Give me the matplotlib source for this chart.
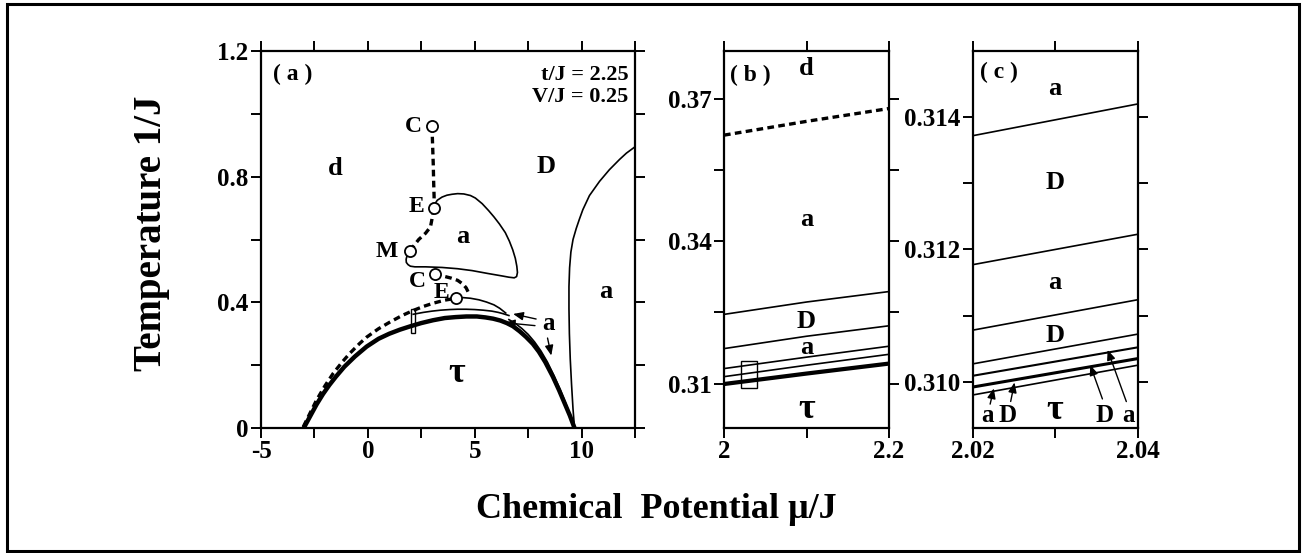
import numpy as np
import matplotlib
matplotlib.use('Agg')
import matplotlib.pyplot as plt
from matplotlib.patches import Rectangle

plt.rcParams['font.family'] = ['Liberation Serif', 'DejaVu Serif']
plt.rcParams['font.weight'] = 'bold'

# ---- panel (a) data: mu/J, T/J ----
dome_x = [-3.0, -2.8, -2.6, -2.4, -2.1, -1.8, -1.5, -1.1, -0.6, -0.06, 0.5, 1.0, 1.5, 2.0, 2.5, 3.05, 3.6, 4.1, 4.61,
          5.1, 5.5, 5.86, 6.2, 6.5, 6.79, 7.1, 7.4, 7.72, 8.0, 8.3, 8.66, 8.95, 9.2, 9.45, 9.67]
dome_y = [0.0, 0.025, 0.05, 0.075, 0.108, 0.137, 0.163, 0.195, 0.228, 0.259, 0.284, 0.3, 0.313, 0.324, 0.334, 0.343, 0.35,
          0.353, 0.355, 0.355, 0.352, 0.348, 0.342, 0.334, 0.324, 0.308, 0.29, 0.268, 0.243, 0.21, 0.163, 0.12, 0.08, 0.04, 0.0]

upper_x = [2.12, 2.6, 3.0, 3.4, 3.83, 4.2, 4.6, 5.0, 5.4, 5.8, 6.1, 6.32, 6.6]
upper_y = [0.362, 0.368, 0.372, 0.375, 0.377, 0.378, 0.378, 0.377, 0.375, 0.372, 0.368, 0.364, 0.358]

right_thin_x = [6.6, 6.9, 7.2, 7.5, 7.8, 8.1, 8.4, 8.7, 9.0, 9.25, 9.45, 9.67]
right_thin_y = [0.345, 0.333, 0.317, 0.298, 0.274, 0.245, 0.21, 0.168, 0.122, 0.08, 0.043, 0.0]

lowdash_x = [-3.02, -2.7, -2.4, -2.0, -1.62, -1.2, -0.84, -0.4, -0.06, 0.5, 1.03, 1.6, 2.12, 2.6, 3.05, 3.6, 4.14]
lowdash_y = [0.004, 0.048, 0.089, 0.135, 0.174, 0.21, 0.238, 0.268, 0.289, 0.316, 0.337, 0.358, 0.374, 0.387, 0.397,
             0.407, 0.413]

e2_solid_x = [4.13, 4.45, 4.8, 5.2, 5.55, 5.9, 6.17, 6.45]
e2_solid_y = [0.413, 0.415, 0.413, 0.408, 0.401, 0.392, 0.381, 0.366]

c2_dash_x = [3.12, 3.5, 3.9, 4.2, 4.45, 4.6, 4.7]
c2_dash_y = [0.49, 0.484, 0.477, 0.47, 0.458, 0.446, 0.432]

ce_dash_x = [3.0, 3.03, 3.06, 3.08, 3.1, 3.08]
ce_dash_y = [0.962, 0.9, 0.84, 0.78, 0.735, 0.70]

em_dash_x = [3.08, 3.0, 2.93, 2.7, 2.38, 2.15, 1.95]
em_dash_y = [0.70, 0.665, 0.64, 0.62, 0.60, 0.58, 0.563]

loop_x = [3.08, 3.12, 3.25, 3.47, 3.7, 3.94, 4.2, 4.49, 4.8, 5.03, 5.35, 5.65, 5.9, 6.15, 6.43, 6.62, 6.78, 6.9, 6.97,
          7.0, 6.96, 6.85, 6.6, 6.28, 5.6, 4.88, 4.2, 3.47, 2.7, 2.2, 1.99, 1.88, 1.8, 1.79, 1.84, 1.95]
loop_y = [0.70, 0.712, 0.725, 0.735, 0.741, 0.744, 0.746, 0.745, 0.74, 0.732, 0.714, 0.692, 0.672, 0.65, 0.622, 0.595,
          0.567, 0.54, 0.515, 0.495, 0.482, 0.478, 0.48, 0.484, 0.492, 0.501, 0.507, 0.511, 0.513, 0.513, 0.515, 0.52,
          0.527, 0.537, 0.55, 0.563]

da_x = [9.67, 9.6, 9.53, 9.47, 9.43, 9.41, 9.41, 9.44, 9.5, 9.6, 9.75, 9.9, 10.06, 10.37, 10.84, 11.3, 11.78, 12.1, 12.5]
da_y = [0.0, 0.06, 0.14, 0.22, 0.3, 0.38, 0.45, 0.51, 0.56, 0.6, 0.635, 0.665, 0.695, 0.74, 0.785, 0.822, 0.855, 0.875,
        0.895]

circ_x = [3.0, 3.08, 1.95, 3.12, 4.13]
circ_y = [0.962, 0.70, 0.563, 0.49, 0.413]
circ_lab = ['C', 'E', 'M', 'C', 'E']
circ_lab_x = [2.15, 2.27, 0.87, 2.32, 3.44]
circ_lab_y = [0.96, 0.705, 0.561, 0.466, 0.43]

# ---- panel (b) ----
b_x = [2.0, 2.1, 2.2]
b_dash = [0.3623, 0.3652, 0.3679]
b_lines = [[0.3246, 0.3272, 0.3294],
           [0.3174, 0.3200, 0.3222],
           [0.3132, 0.3156, 0.3179],
           [0.3115, 0.3139, 0.3162]]
b_thick = [[0.3101, 0.3123, 0.3144],
           [0.3098, 0.3120, 0.3141]]

# ---- panel (c) ----
c_x = [2.02, 2.04]
c_lines = [[0.31372, 0.31420],
           [0.31177, 0.31223],
           [0.31078, 0.31124],
           [0.31027, 0.31072],
           [0.31009, 0.31052],
           [0.30992, 0.31035],
           [0.30980, 0.31025]]
c_lw = [1.2, 1.2, 1.2, 1.2, 1.5, 2.2, 1.2]

W, H = 1302, 553
fig = plt.figure(figsize=(W/100, H/100), dpi=100)
fig.patches.append(Rectangle((0.005, 0.004), 0.993, 0.989, transform=fig.transFigure,
                             fill=False, lw=2.2, color='k'))

def box(l, r, b=428, t=51):
    return [l/W, 1-b/H, (r-l)/W, (b-t)/H]

axa = fig.add_axes(box(261, 635))
axb = fig.add_axes(box(724, 889))
axc = fig.add_axes(box(973, 1138))

for ax in (axa, axb, axc):
    for s in ax.spines.values():
        s.set_linewidth(1.6)
    ax.tick_params(direction='out', length=7, width=1.4, top=True, right=True,
                   labelsize=18, pad=2)

dash = dict(color='k', lw=2.4, dashes=(2.0, 1.3))
thin = dict(color='k', lw=1.2)

# panel (a)
axa.plot(dome_x, dome_y, color='k', lw=3.2, solid_capstyle='round')
axa.plot(upper_x, upper_y, **thin)
axa.plot(right_thin_x, right_thin_y, **thin)
axa.plot(lowdash_x, lowdash_y, **dash)
axa.plot(e2_solid_x, e2_solid_y, **thin)
axa.plot(c2_dash_x, c2_dash_y, **dash)
axa.plot(ce_dash_x, ce_dash_y, **dash)
axa.plot(em_dash_x, em_dash_y, **dash)
axa.plot(loop_x, loop_y, **thin)
axa.plot(da_x, da_y, **thin)
axa.plot(circ_x, circ_y, 'o', ms=8, mfc='white', mec='k', mew=1.3, zorder=5)
for lx, ly, s in zip(circ_lab_x, circ_lab_y, circ_lab):
    axa.text(lx, ly, s, fontsize=17, ha='center', va='center')
axa.add_patch(Rectangle((2.0, 0.301), 0.2, 0.079, fill=False, lw=1.0, color='k'))

arr = dict(arrowstyle='-|>,head_length=0.6,head_width=0.25', color='k', lw=1.0)
axa.annotate('', xy=(6.67, 0.365), xytext=(8.0, 0.345), arrowprops=arr)
axa.annotate('', xy=(6.28, 0.336), xytext=(7.95, 0.325), arrowprops=arr)
axa.annotate('', xy=(8.61, 0.222), xytext=(8.38, 0.295), arrowprops=arr)
axa.text(8.45, 0.333, 'a', fontsize=18, ha='center', va='center')

axa.text(-4.45, 1.124, '( a )', fontsize=17, ha='left', va='center')
axa.text(12.2, 1.124, 't/J = 2.25', fontsize=16, ha='right', va='center')
axa.text(12.2, 1.053, 'V/J = 0.25', fontsize=16, ha='right', va='center')
axa.text(-1.54, 0.827, 'd', fontsize=19, ha='center', va='center')
axa.text(8.35, 0.832, 'D', fontsize=19, ha='center', va='center')
axa.text(4.45, 0.609, 'a', fontsize=19, ha='center', va='center')
axa.text(11.15, 0.434, 'a', fontsize=19, ha='center', va='center')
axa.text(4.14, 0.175, 'τ', fontsize=26, ha='center', va='center')

axa.set_xlim(-5, 12.5)
axa.set_ylim(0, 1.2)
axa.set_xticks(np.arange(-5, 12.6, 2.5))
axa.set_xticklabels(['-5', '', '0', '', '5', '', '10', ''])
axa.set_yticks(np.arange(0, 1.21, 0.2))
axa.set_yticklabels(['0', '', '0.4', '', '0.8', '', '1.2'])

# panel (b)
axb.plot(b_x, b_dash, **dash)
for ys in b_lines:
    axb.plot(b_x, ys, **thin)
for ys in b_thick:
    axb.plot(b_x, ys, color='k', lw=2.0)
axb.add_patch(Rectangle((2.02, 0.3092), 0.02, 0.0056, fill=False, lw=1.0, color='k'))
axb.text(2.007, 0.3749, '( b )', fontsize=17, ha='left', va='center')
axb.text(2.1, 0.3764, 'd', fontsize=19, ha='center', va='center')
axb.text(2.1, 0.3445, 'a', fontsize=19, ha='center', va='center')
axb.text(2.1, 0.3231, 'D', fontsize=19, ha='center', va='center')
axb.text(2.1, 0.3176, 'a', fontsize=19, ha='center', va='center')
axb.text(2.1, 0.3046, 'τ', fontsize=26, ha='center', va='center')
axb.set_xlim(2.0, 2.2)
axb.set_ylim(0.3007, 0.38)
axb.set_xticks([2.0, 2.1, 2.2])
axb.set_xticklabels(['2', '', '2.2'])
axb.set_yticks([0.31, 0.325, 0.34, 0.355, 0.37])
axb.set_yticklabels(['0.31', '', '0.34', '', '0.37'])

# panel (c)
for ys, lw in zip(c_lines, c_lw):
    axc.plot(c_x, ys, color='k', lw=lw)
axc.text(2.0208, 0.31468, '( c )', fontsize=17, ha='left', va='center')
axc.text(2.0299, 0.31444, 'a', fontsize=19, ha='center', va='center')
axc.text(2.0299, 0.31301, 'D', fontsize=19, ha='center', va='center')
axc.text(2.0299, 0.31150, 'a', fontsize=19, ha='center', va='center')
axc.text(2.0299, 0.31070, 'D', fontsize=19, ha='center', va='center')
axc.text(2.0299, 0.30956, 'τ', fontsize=26, ha='center', va='center')
axc.text(2.0218, 0.30932, 'a', fontsize=18, ha='center', va='bottom')
axc.text(2.0242, 0.30932, 'D', fontsize=18, ha='center', va='bottom')
axc.text(2.0360, 0.30932, 'D', fontsize=18, ha='center', va='bottom')
axc.text(2.0388, 0.30932, 'a', fontsize=18, ha='center', va='bottom')
axc.annotate('', xy=(2.0226, 0.30994), xytext=(2.0220, 0.30962), arrowprops=arr)
axc.annotate('', xy=(2.0251, 0.31003), xytext=(2.0245, 0.30966), arrowprops=arr)
axc.annotate('', xy=(2.0341, 0.31029), xytext=(2.0358, 0.30970), arrowprops=arr)
axc.annotate('', xy=(2.0362, 0.31052), xytext=(2.0387, 0.30966), arrowprops=arr)
axc.set_xlim(2.02, 2.04)
axc.set_ylim(0.3093, 0.315)
axc.set_xticks([2.02, 2.03, 2.04])
axc.set_xticklabels(['2.02', '', '2.04'])
axc.set_yticks([0.310, 0.311, 0.312, 0.313, 0.314])
axc.set_yticklabels(['0.310', '', '0.312', '', '0.314'])

fig.text(656/W, 1-510/H, 'Chemical  Potential μ/J', fontsize=26, ha='center', va='center')
fig.text(152/W, 1-233/H, 'Temperature 1/J', fontsize=28, ha='center', va='center', rotation=90)

fig.savefig('out.png', dpi=100)
